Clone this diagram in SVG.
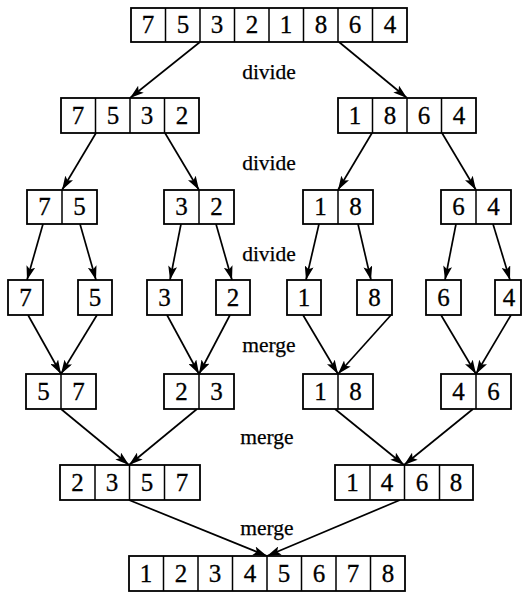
<svg xmlns="http://www.w3.org/2000/svg" width="526" height="593" viewBox="0 0 526 593">
<style>
.box{fill:#fff;stroke:#000;stroke-width:1.8}
.div{stroke:#000;stroke-width:1.5}
.num{font-size:25px;text-anchor:middle;fill:#000;stroke:#000;stroke-width:0.3}
.lbl{font-size:21.5px;text-anchor:middle;fill:#000;stroke:#000;stroke-width:0.25}
.edge{stroke:#000;stroke-width:1.7;fill:none;marker-end:url(#ah)}
</style>
<defs>
<marker id="ah" markerUnits="userSpaceOnUse" markerWidth="15" markerHeight="9" refX="14" refY="4.5" orient="auto">
<path d="M0,0 L14,4.5 L0,9 L3,4.5 z" fill="#000"/>
</marker>
</defs>
<rect width="526" height="593" fill="#fff"/>
<g id="connectors">
<line class="edge" x1="200" y1="42" x2="130" y2="98"/>
<line class="edge" x1="339" y1="42" x2="407" y2="98"/>
<line class="edge" x1="96" y1="133" x2="62" y2="190"/>
<line class="edge" x1="165" y1="133" x2="199" y2="190"/>
<line class="edge" x1="372" y1="133" x2="338" y2="190"/>
<line class="edge" x1="442" y1="133" x2="476" y2="190"/>
<line class="edge" x1="43" y1="224" x2="27" y2="280"/>
<line class="edge" x1="80" y1="224" x2="96" y2="280"/>
<line class="edge" x1="181" y1="224" x2="170" y2="280"/>
<line class="edge" x1="216" y1="224" x2="232" y2="280"/>
<line class="edge" x1="319" y1="224" x2="306" y2="280"/>
<line class="edge" x1="358" y1="224" x2="371" y2="280"/>
<line class="edge" x1="456" y1="224" x2="445" y2="280"/>
<line class="edge" x1="493" y1="224" x2="510" y2="280"/>
<line class="edge" x1="28" y1="315" x2="61" y2="374"/>
<line class="edge" x1="97" y1="315" x2="61" y2="374"/>
<line class="edge" x1="167" y1="315" x2="199" y2="374"/>
<line class="edge" x1="230" y1="315" x2="199" y2="374"/>
<line class="edge" x1="303" y1="315" x2="338" y2="374"/>
<line class="edge" x1="391" y1="315" x2="338" y2="374"/>
<line class="edge" x1="441" y1="315" x2="476" y2="374"/>
<line class="edge" x1="511" y1="315" x2="476" y2="374"/>
<line class="edge" x1="61" y1="409" x2="129" y2="465"/>
<line class="edge" x1="197" y1="409" x2="129" y2="465"/>
<line class="edge" x1="335" y1="409" x2="404" y2="465"/>
<line class="edge" x1="473" y1="409" x2="404" y2="465"/>
<line class="edge" x1="129" y1="500" x2="267" y2="556"/>
<line class="edge" x1="400" y1="500" x2="267" y2="556"/>
</g>
<g id="labels" font-family="Liberation Serif">
<text class="lbl" font-family="Liberation Serif" x="269" y="79">divide</text>
<text class="lbl" font-family="Liberation Serif" x="269" y="170">divide</text>
<text class="lbl" font-family="Liberation Serif" x="269" y="261">divide</text>
<text class="lbl" font-family="Liberation Serif" x="269" y="352">merge</text>
<text class="lbl" font-family="Liberation Serif" x="267" y="444">merge</text>
<text class="lbl" font-family="Liberation Serif" x="267" y="535">merge</text>
</g>
<g id="nodes" font-family="Liberation Serif">
<g id="n0">
<rect class="box" x="131" y="8" width="276" height="34"/>
<path class="div" d="M165.5,8V42M200,8V42M234.5,8V42M269,8V42M303.5,8V42M338,8V42M372.5,8V42"/>
<text class="num" x="148" y="33">7</text><text class="num" x="183" y="33">5</text><text class="num" x="217" y="33">3</text><text class="num" x="252" y="33">2</text><text class="num" x="286" y="33">1</text><text class="num" x="321" y="33">8</text><text class="num" x="355" y="33">6</text><text class="num" x="390" y="33">4</text>
</g>
<g id="n1a">
<rect class="box" x="61" y="98" width="138" height="35"/>
<path class="div" d="M95.5,98V133M130,98V133M164.5,98V133"/>
<text class="num" x="78" y="124">7</text><text class="num" x="113" y="124">5</text><text class="num" x="147" y="124">3</text><text class="num" x="182" y="124">2</text>
</g>
<g id="n1b">
<rect class="box" x="338" y="98" width="138" height="35"/>
<path class="div" d="M372.5,98V133M407,98V133M441.5,98V133"/>
<text class="num" x="355" y="124">1</text><text class="num" x="390" y="124">8</text><text class="num" x="424" y="124">6</text><text class="num" x="459" y="124">4</text>
</g>
<g id="n2a">
<rect class="box" x="27" y="190" width="70" height="34"/>
<path class="div" d="M62,190V224"/>
<text class="num" x="44.5" y="215">7</text><text class="num" x="79.5" y="215">5</text>
</g>
<g id="n2b">
<rect class="box" x="164" y="190" width="70" height="34"/>
<path class="div" d="M199,190V224"/>
<text class="num" x="181.5" y="215">3</text><text class="num" x="216.5" y="215">2</text>
</g>
<g id="n2c">
<rect class="box" x="303" y="190" width="70" height="34"/>
<path class="div" d="M338,190V224"/>
<text class="num" x="320.5" y="215">1</text><text class="num" x="355.5" y="215">8</text>
</g>
<g id="n2d">
<rect class="box" x="441" y="190" width="70" height="34"/>
<path class="div" d="M476,190V224"/>
<text class="num" x="458.5" y="215">6</text><text class="num" x="493.5" y="215">4</text>
</g>
<g id="n3a"><rect class="box" x="8" y="280" width="35" height="35"/><text class="num" x="25.5" y="306">7</text></g>
<g id="n3b"><rect class="box" x="78" y="280" width="34" height="35"/><text class="num" x="95" y="306">5</text></g>
<g id="n3c"><rect class="box" x="147" y="280" width="35" height="35"/><text class="num" x="164.5" y="306">3</text></g>
<g id="n3d"><rect class="box" x="216" y="280" width="34" height="35"/><text class="num" x="233" y="306">2</text></g>
<g id="n3e"><rect class="box" x="287" y="280" width="34" height="35"/><text class="num" x="304" y="306">1</text></g>
<g id="n3f"><rect class="box" x="357" y="280" width="35" height="35"/><text class="num" x="374.5" y="306">8</text></g>
<g id="n3g"><rect class="box" x="426" y="280" width="35" height="35"/><text class="num" x="443.5" y="306">6</text></g>
<g id="n3h"><rect class="box" x="495" y="280" width="26" height="35"/><text class="num" x="509" y="306">4</text></g>
<g id="n4a">
<rect class="box" x="26" y="374" width="70" height="35"/>
<path class="div" d="M61,374V409"/>
<text class="num" x="43.5" y="400">5</text><text class="num" x="78.5" y="400">7</text>
</g>
<g id="n4b">
<rect class="box" x="164" y="374" width="70" height="35"/>
<path class="div" d="M199,374V409"/>
<text class="num" x="181.5" y="400">2</text><text class="num" x="216.5" y="400">3</text>
</g>
<g id="n4c">
<rect class="box" x="303" y="374" width="70" height="35"/>
<path class="div" d="M338,374V409"/>
<text class="num" x="320.5" y="400">1</text><text class="num" x="355.5" y="400">8</text>
</g>
<g id="n4d">
<rect class="box" x="441" y="374" width="70" height="35"/>
<path class="div" d="M476,374V409"/>
<text class="num" x="458.5" y="400">4</text><text class="num" x="493.5" y="400">6</text>
</g>
<g id="n5a">
<rect class="box" x="60" y="465" width="140" height="35"/>
<path class="div" d="M95,465V500M129.5,465V500M164.5,465V500"/>
<text class="num" x="77.5" y="491">2</text><text class="num" x="112" y="491">3</text><text class="num" x="147" y="491">5</text><text class="num" x="182" y="491">7</text>
</g>
<g id="n5b">
<rect class="box" x="335" y="465" width="138" height="35"/>
<path class="div" d="M370,465V500M404.5,465V500M439.5,465V500"/>
<text class="num" x="352.5" y="491">1</text><text class="num" x="387" y="491">4</text><text class="num" x="422" y="491">6</text><text class="num" x="456" y="491">8</text>
</g>
<g id="n6">
<rect class="box" x="129" y="556" width="276" height="35"/>
<path class="div" d="M163.5,556V591M198,556V591M232.5,556V591M267,556V591M301.5,556V591M336,556V591M370.5,556V591"/>
<text class="num" x="146" y="582">1</text><text class="num" x="181" y="582">2</text><text class="num" x="215" y="582">3</text><text class="num" x="250" y="582">4</text><text class="num" x="284" y="582">5</text><text class="num" x="319" y="582">6</text><text class="num" x="353" y="582">7</text><text class="num" x="388" y="582">8</text>
</g>
</g>
</svg>
